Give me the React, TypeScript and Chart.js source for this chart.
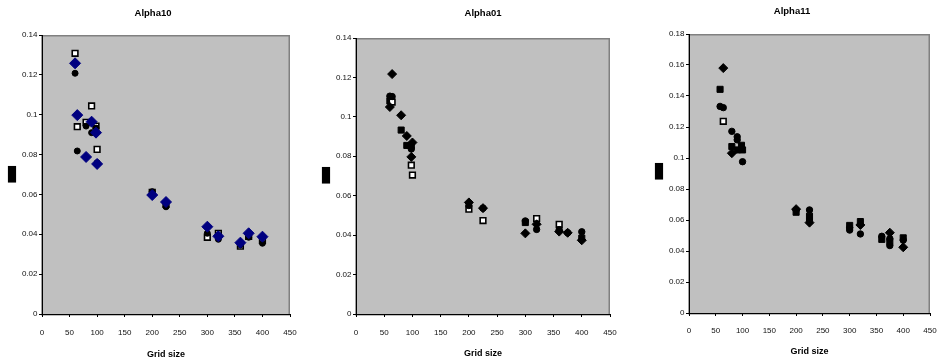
import { useEffect, useRef } from 'react';
import { Chart, registerables } from 'chart.js';

Chart.register(...registerables);

// ---------- Data ----------
const gridSizes10 = [60, 64, 80, 90, 98, 100, 200, 225, 300, 320, 360, 375, 400];
const a10Diamonds = [0.1258, 0.0998, 0.0788, 0.0965, 0.091, 0.0753, 0.0597, 0.0562, 0.0438, 0.039, 0.0358, 0.0405, 0.0388];
const a10Circles = [0.1208, 0.0818, 0.0943, 0.091, 0.0933, 0.0759, 0.0614, 0.0538, 0.0405, 0.0375, 0.0347, 0.0385, 0.0355];
const a10OpenSquares = [0.1308, 0.094, 0.0962, 0.1044, 0.0943, 0.0826, 0.061, 0.055, 0.0385, 0.0405, 0.034, 0.039, 0.037];

const gridSizes01 = [60, 64, 80, 90, 98, 100, 200, 225, 300, 320, 360, 375, 400];
const a01Diamonds = [0.105, 0.1217, 0.1008, 0.0903, 0.0797, 0.087, 0.0566, 0.0537, 0.0409, 0.0455, 0.0418, 0.0412, 0.0374];
const a01Circles = [0.1105, 0.1103, null, null, 0.0837, null, 0.055, 0.0537, 0.0472, 0.0429, 0.0428, 0.0412, 0.0417];
const a01FilledSquares = [0.108, null, 0.0933, 0.0855, 0.0855, null, null, null, 0.0464, null, null, null, 0.0385];
const a01OpenSquares = [null, 0.1075, null, null, 0.0755, 0.0705, 0.0532, 0.0474, null, 0.0484, 0.0455, null, null];

const gridSizes11 = [58, 64, 80, 90, 98, 100, 200, 225, 300, 320, 360, 375, 400];
const a11Diamonds = [null, 0.158, 0.1031, null, null, null, 0.067, 0.0583, null, 0.0568, null, 0.0518, 0.0424];
const a11CirclesA = [0.1333, 0.1325, 0.1172, 0.1137, null, 0.0976, 0.0665, 0.0665, 0.055, 0.051, 0.0495, 0.048, null];
const a11CirclesB = [null, null, null, 0.1117, null, null, null, 0.06, 0.0535, null, null, 0.0435, 0.047];
const a11FilledSquares = [0.1443, null, 0.1074, 0.1052, 0.1082, 0.1052, 0.065, 0.0625, 0.0565, 0.059, 0.0475, 0.046, 0.0485];
const a11OpenSquares = [null, 0.1237, null, null, null, null, null, null, null, null, null, null, null];

const panelTitles = ['Alpha10', 'Alpha01', 'Alpha11'];
const xAxisTitle = 'Grid size';
const yAxisTitle = '\u2588';
const xTickRange = [0, 450, 50];
const yTickRanges = [
  [0, 0.14, 0.02],
  [0, 0.14, 0.02],
  [0, 0.18, 0.02],
];

// ---------- Helpers ----------
type Y = number | null;
const pts = (xs: number[], ys: Y[]) =>
  xs.map((x, i) => ({ x, y: ys[i] })).filter((p) => p.y !== null) as { x: number; y: number }[];

const fmtTick = (v: number | string) => String(Number(Number(v).toFixed(2)));

const TICK_FONT = { family: '"Liberation Sans", Arial, sans-serif', size: 8 };
const TITLE_FONT = { family: '"Liberation Sans", Arial, sans-serif', size: 9.5, weight: 'bold' as const };
const XTITLE_FONT = { family: '"Liberation Sans", Arial, sans-serif', size: 9, weight: 'bold' as const };

const diamond = (color: string, r: number) => ({
  pointStyle: 'rectRot', pointRadius: r, pointHoverRadius: r,
  pointBackgroundColor: color, pointBorderColor: color, pointBorderWidth: 1,
});
const circle = (r: number) => ({
  pointStyle: 'circle', pointRadius: r, pointHoverRadius: r,
  pointBackgroundColor: '#000', pointBorderColor: '#000', pointBorderWidth: 1,
});
const filledSquare = (r: number) => ({
  pointStyle: 'rect', pointRadius: r, pointHoverRadius: r,
  pointBackgroundColor: '#000', pointBorderColor: '#000', pointBorderWidth: 1,
});
const openSquare = (r: number) => ({
  pointStyle: 'rect', pointRadius: r, pointHoverRadius: r,
  pointBackgroundColor: '#fff', pointBorderColor: '#000', pointBorderWidth: 1.6,
});

const plotFrame = {
  id: 'plotFrame',
  beforeDraw(chart: any) {
    const { ctx, chartArea: a } = chart;
    ctx.save();
    ctx.fillStyle = '#C0C0C0';
    ctx.fillRect(a.left, a.top, a.right - a.left, a.bottom - a.top);
    ctx.strokeStyle = '#808080';
    ctx.lineWidth = 1.5;
    ctx.strokeRect(a.left, a.top + 0.75, a.right - a.left - 0.75, a.bottom - a.top);
    ctx.restore();
  },
  afterDraw(chart: any, _args: any, opts: any) {
    const { ctx } = chart;
    const sx = 0.74;
    ctx.save();
    ctx.font = '14px "DejaVu Sans"';
    ctx.fillStyle = '#000';
    ctx.textAlign = 'center';
    ctx.textBaseline = 'middle';
    ctx.scale(sx, 1);
    ctx.fillText(opts.text, opts.x / sx, opts.y);
    ctx.restore();
  },
};

interface PanelCfg {
  left: number;
  width: number;
  padL: number;
  padR: number;
  yW: number;
  xH: number;
  titleFull: boolean;
  titlePadTop: number;
  titlePadBottom: number;
  xTitlePadBottom: number;
  xTickPad: number;
  title: string;
  yRange: number[];
  blockX: number;
  blockY: number;
  datasets: any[];
}

const panels: PanelCfg[] = [
  {
    left: 0, width: 300, padL: 16, padR: 10, yW: 26, xH: 47, titleFull: true,
    titlePadTop: 7.3, titlePadBottom: 16.3, xTitlePadBottom: 0.6, xTickPad: 11,
    title: panelTitles[0], yRange: yTickRanges[0], blockX: 12, blockY: 175,
    datasets: [
      { data: pts(gridSizes10, a10Diamonds), ...diamond('#000080', 5.5) },
      { data: pts(gridSizes10, a10Circles), ...circle(3) },
      { data: pts(gridSizes10, a10OpenSquares), ...openSquare(4) },
    ],
  },
  {
    left: 313, width: 310, padL: 13, padR: 13, yW: 30, xH: 47, titleFull: false,
    titlePadTop: 7.3, titlePadBottom: 19.3, xTitlePadBottom: 1.6, xTickPad: 11,
    title: panelTitles[1], yRange: yTickRanges[1], blockX: 326 - 313, blockY: 176,
    datasets: [
      { data: pts(gridSizes01, a01Diamonds), ...diamond('#000', 4.5) },
      { data: pts(gridSizes01, a01Circles), ...circle(3.2) },
      { data: pts(gridSizes01, a01OpenSquares), ...openSquare(4) },
      { data: pts(gridSizes01, a01FilledSquares), ...filledSquare(4.3) },
    ],
  },
  {
    left: 630, width: 310, padL: 24, padR: 10, yW: 35, xH: 48, titleFull: true,
    titlePadTop: 5.3, titlePadBottom: 17.3, xTitlePadBottom: 3.6, xTickPad: 10,
    title: panelTitles[2], yRange: yTickRanges[2], blockX: 659 - 630, blockY: 172.5,
    datasets: [
      { data: pts(gridSizes11, a11Diamonds), ...diamond('#000', 4.5) },
      { data: pts(gridSizes11, a11CirclesA), ...circle(3.2) },
      { data: pts(gridSizes11, a11CirclesB), ...circle(3.2) },
      { data: pts(gridSizes11, a11OpenSquares), ...openSquare(4) },
      { data: pts(gridSizes11, a11FilledSquares), ...filledSquare(4.3) },
    ],
  },
];

function Panel({ cfg }: { cfg: PanelCfg }) {
  const ref = useRef<HTMLCanvasElement | null>(null);
  useEffect(() => {
    if (!ref.current) return;
    const axisGrid = {
      display: true, drawOnChartArea: false, drawTicks: true, tickLength: 3, color: '#000', lineWidth: 1,
    };
    const chart = new Chart(ref.current, {
      type: 'scatter',
      data: { datasets: cfg.datasets },
      options: {
        animation: false,
        responsive: false,
        maintainAspectRatio: false,
        devicePixelRatio: 1,
        events: [],
        layout: { padding: { left: cfg.padL, right: cfg.padR, top: 0, bottom: 0 } },
        plugins: {
          legend: { display: false },
          tooltip: { enabled: false },
          title: {
            display: true, text: cfg.title, color: '#000', font: TITLE_FONT, fullSize: cfg.titleFull,
            padding: { top: cfg.titlePadTop, bottom: cfg.titlePadBottom },
          },
          plotFrame: { text: yAxisTitle, x: cfg.blockX, y: cfg.blockY },
        } as any,
        scales: {
          x: {
            type: 'linear', min: xTickRange[0], max: xTickRange[1],
            ticks: {
              stepSize: xTickRange[2], color: '#111', font: TICK_FONT, padding: cfg.xTickPad,
              maxRotation: 0, autoSkip: false, callback: (v: any) => fmtTick(v),
            },
            grid: axisGrid,
            border: { display: true, color: '#000', width: 1 },
            title: {
              display: true, text: xAxisTitle, color: '#000', font: XTITLE_FONT,
              padding: { top: 0, bottom: cfg.xTitlePadBottom },
            },
            afterFit: (s: any) => {
              s.height = cfg.xH;
              s.paddingLeft = 0;
              s.paddingRight = 0;
            },
          },
          y: {
            type: 'linear', min: cfg.yRange[0], max: cfg.yRange[1],
            ticks: {
              stepSize: cfg.yRange[2], color: '#111', font: TICK_FONT, padding: 1.5,
              autoSkip: false, callback: (v: any) => fmtTick(v),
            },
            grid: axisGrid,
            border: { display: true, color: '#000', width: 1 },
            afterFit: (s: any) => { s.width = cfg.yW; },
          },
        },
      } as any,
      plugins: [plotFrame],
    });
    return () => chart.destroy();
  }, [cfg]);
  return (
    <canvas
      ref={ref}
      width={cfg.width}
      height={361}
      style={{ position: 'absolute', left: cfg.left, top: 0, width: cfg.width, height: 361 }}
    />
  );
}

export default function App() {
  useEffect(() => {
    document.body.style.margin = '0';
  }, []);
  return (
    <div style={{ position: 'relative', width: 940, height: 361, background: '#fff', overflow: 'hidden' }}>
      {panels.map((p, i) => (
        <Panel key={i} cfg={p} />
      ))}
    </div>
  );
}
